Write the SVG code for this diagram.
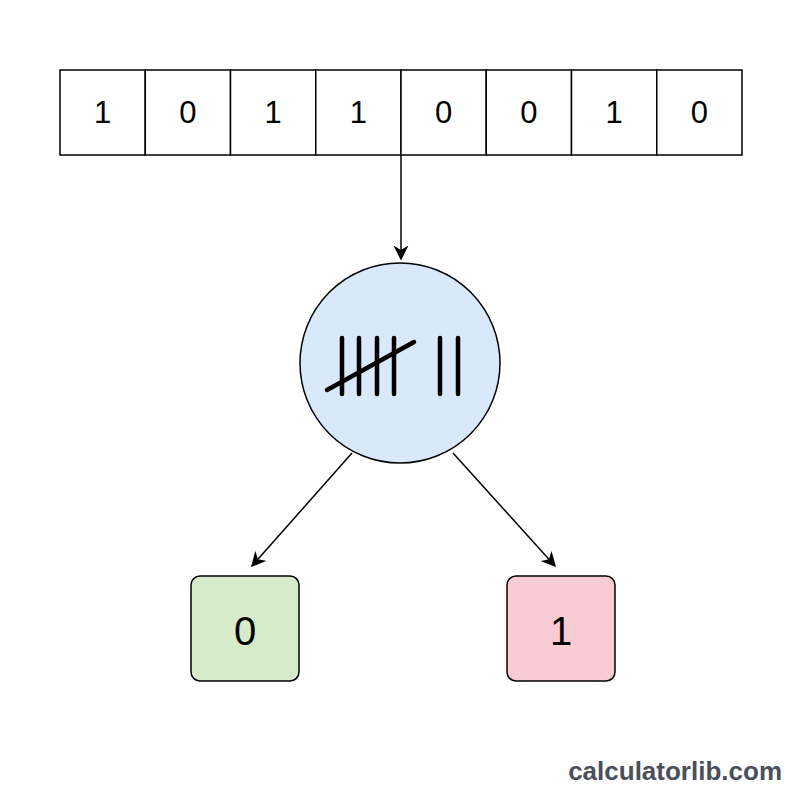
<svg xmlns="http://www.w3.org/2000/svg" width="800" height="800" viewBox="0 0 800 800">
<defs>
<style>
.cell{fill:#ffffff;stroke:#000;stroke-width:1.5}
.t{font-family:"Liberation Sans",Arial,sans-serif;font-size:31px;fill:#000;text-anchor:middle;dominant-baseline:central}
.big{font-size:40px}
.edge{stroke:#000;stroke-width:1.5;fill:none;marker-end:url(#ah)}
.tally{stroke:#000;stroke-width:4.5;stroke-linecap:round}
</style>
<marker id="ah" viewBox="0 0 10 10" refX="9" refY="5" markerWidth="15" markerHeight="15" markerUnits="userSpaceOnUse" orient="auto">
<path d="M0,0 L10,5 L0,10 L3,5 Z" fill="#000"/>
</marker>
</defs>
<rect width="800" height="800" fill="#ffffff"/>
<g id="array">
<rect class="cell" x="60" y="70" width="85.25" height="85"/>
<rect class="cell" x="145.25" y="70" width="85.25" height="85"/>
<rect class="cell" x="230.5" y="70" width="85.25" height="85"/>
<rect class="cell" x="315.75" y="70" width="85.25" height="85"/>
<rect class="cell" x="401" y="70" width="85.25" height="85"/>
<rect class="cell" x="486.25" y="70" width="85.25" height="85"/>
<rect class="cell" x="571.5" y="70" width="85.25" height="85"/>
<rect class="cell" x="656.75" y="70" width="85.25" height="85"/>
<text class="t" x="102.6" y="112.5">1</text>
<text class="t" x="187.9" y="112.5">0</text>
<text class="t" x="273.1" y="112.5">1</text>
<text class="t" x="358.4" y="112.5">1</text>
<text class="t" x="443.6" y="112.5">0</text>
<text class="t" x="528.9" y="112.5">0</text>
<text class="t" x="614.1" y="112.5">1</text>
<text class="t" x="699.4" y="112.5">0</text>
</g>
<g id="counter">
<circle cx="400" cy="363" r="100" fill="#dae8fc" stroke="#000" stroke-width="1.5"/>
<line class="tally" x1="342" y1="338" x2="342" y2="394"/>
<line class="tally" x1="359" y1="338" x2="359" y2="394"/>
<line class="tally" x1="377" y1="338" x2="377" y2="394"/>
<line class="tally" x1="394" y1="338" x2="394" y2="394"/>
<line class="tally" x1="327" y1="390" x2="414" y2="342"/>
<line class="tally" x1="440" y1="338" x2="440" y2="394"/>
<line class="tally" x1="458" y1="338" x2="458" y2="394"/>
</g>
<g id="out0">
<rect x="191" y="576" width="108" height="105" rx="9" fill="#d5ebc9" stroke="#000" stroke-width="1.5"/>
<text class="t big" x="245" y="631">0</text>
</g>
<g id="out1">
<rect x="507" y="576" width="108" height="105" rx="9" fill="#f8ccd2" stroke="#000" stroke-width="1.5"/>
<text class="t big" x="561" y="631">1</text>
</g>
<g id="connectors">
<line class="edge" x1="401" y1="155" x2="401" y2="259"/>
<line class="edge" x1="352" y1="453" x2="252" y2="566"/>
<line class="edge" x1="453" y1="453" x2="555" y2="566"/>
</g>
<text x="782" y="780" font-family="Liberation Sans,Arial,sans-serif" font-size="26" font-weight="bold" fill="#4a4f59" text-anchor="end">calculatorlib.com</text>
</svg>
